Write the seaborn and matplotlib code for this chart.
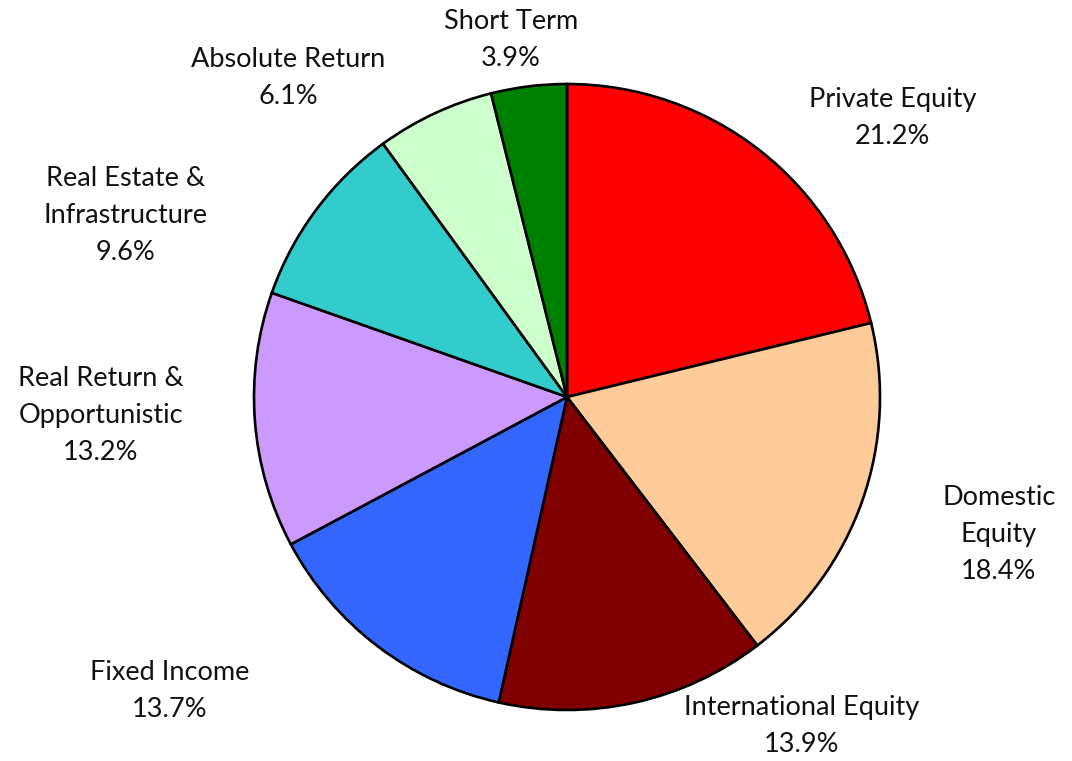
import matplotlib
matplotlib.use("Agg")
import matplotlib.pyplot as plt
import seaborn as sns

# asset allocation, clockwise from 12 o'clock
categories = ["Private Equity", "Domestic\nEquity", "International Equity", "Fixed Income",
              "Real Return &\nOpportunistic", "Real Estate &\nInfrastructure",
              "Absolute Return", "Short Term"]
shares = [21.2, 18.4, 13.9, 13.7, 13.2, 9.6, 6.1, 3.9]
colors = ["#FF0000", "#FFCC99", "#800000", "#3366FF", "#CC99FF", "#33CCCC", "#CCFFCC", "#008000"]

# label centres in pie-radius units
label_pos = [(1.04, 0.89), (1.38, -0.44), (0.75, -1.05), (-1.27, -0.94),
             (-1.49, -0.06), (-1.41, 0.58), (-0.89, 1.02), (-0.18, 1.14)]

sns.set_theme(style="white")
plt.rcParams['font.family'] = ['Lato', 'DejaVu Sans']

fig = plt.figure(figsize=(10.72, 7.61), dpi=100)
ax = fig.add_axes([0, 0, 1, 1])

wedges, _ = ax.pie(shares, colors=colors, startangle=90, counterclock=False,
                   wedgeprops=dict(edgecolor="black", linewidth=1.9))

for name, val, (x, y) in zip(categories, shares, label_pos):
    ax.text(x, y, f"{name}\n{val:.1f}%", ha="center", va="center",
            fontsize=19.5, color="#111111", linespacing=1.6)

ax.set_xlim(-567 / 313, (1072 - 567) / 313)
ax.set_ylim(-364 / 313, (761 - 364) / 313)
ax.set_aspect("equal")
ax.axis("off")

fig.savefig("out.png", dpi=100, facecolor="white")
